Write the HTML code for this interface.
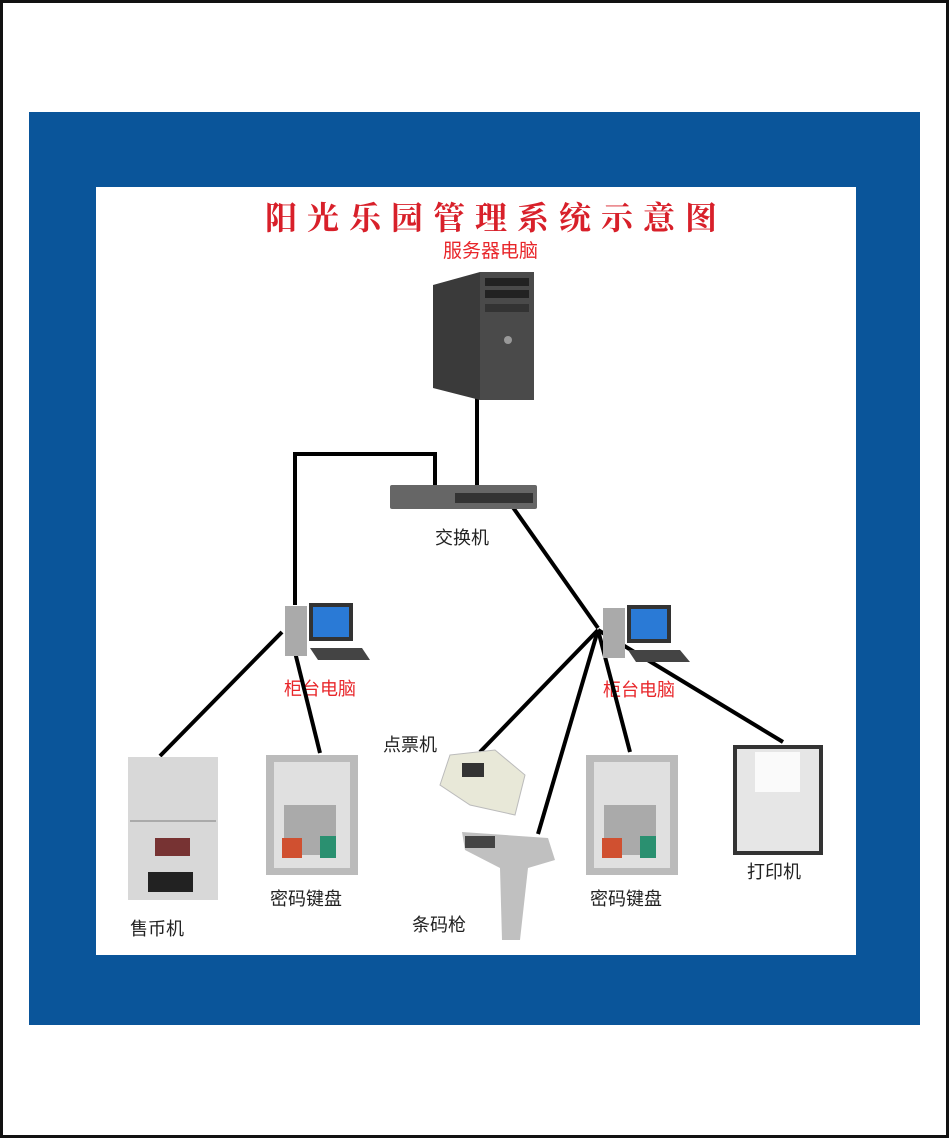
<!DOCTYPE html>
<html><head><meta charset="utf-8"><style>
html,body{margin:0;padding:0}
body{width:949px;height:1138px;position:relative;background:#fff;overflow:hidden;font-family:"Liberation Sans","Noto Sans CJK SC",sans-serif}
.frame{position:absolute;left:0;top:0;width:943px;height:1132px;border:3px solid #111}
.blue{position:absolute;left:29px;top:112px;width:891px;height:913px;background:#0a559a}
.inner{position:absolute;left:96px;top:187px;width:760px;height:768px;background:#fff}
.t{position:absolute;white-space:nowrap;line-height:1}
.red{color:#e8262a}
.blk{color:#222;font-size:18px}
</style></head><body>
<div class="frame"></div>
<div class="blue"></div>
<div class="inner"></div>
<div class="t red" style="left:265px;top:200px;font-size:32px;letter-spacing:10px;font-family:'Noto Serif CJK SC',serif;font-weight:bold;color:#d8202a">阳光乐园管理系统示意图</div>
<div class="t red" style="left:443px;top:242px;font-size:19px">服务器电脑</div>
<div class="t blk" style="left:435px;top:529px">交换机</div>
<div class="t red" style="left:284px;top:680px;font-size:18px">柜台电脑</div>
<div class="t red" style="left:603px;top:681px;font-size:18px">柜台电脑</div>
<div class="t blk" style="left:383px;top:736px">点票机</div>
<div class="t blk" style="left:130px;top:920px">售币机</div>
<div class="t blk" style="left:270px;top:890px">密码键盘</div>
<div class="t blk" style="left:412px;top:916px">条码枪</div>
<div class="t blk" style="left:590px;top:890px">密码键盘</div>
<div class="t blk" style="left:747px;top:863px">打印机</div>
<svg width="949" height="1138" style="position:absolute;left:0;top:0">
<g stroke="#000" stroke-width="4" fill="none">
<polyline points="435,485 435,454 295,454 295,605"/>
<line x1="477" y1="398" x2="477" y2="492"/>
<line x1="512" y1="506" x2="598" y2="628"/>
<line x1="282" y1="632" x2="160" y2="756"/>
<line x1="290" y1="632" x2="320" y2="753"/>
<line x1="598" y1="630" x2="480" y2="752"/>
<line x1="598" y1="630" x2="538" y2="834"/>
<line x1="598" y1="630" x2="630" y2="752"/>
<line x1="598" y1="630" x2="783" y2="742"/>
</g>
<polygon points="433,285 480,272 480,400 433,388" fill="#3a3a3a"/>
<rect x="480" y="272" width="54" height="128" fill="#4a4a4a"/>
<rect x="485" y="278" width="44" height="8" fill="#222"/><rect x="485" y="290" width="44" height="8" fill="#222"/><rect x="485" y="304" width="44" height="8" fill="#333"/>
<circle cx="508" cy="340" r="4" fill="#999"/>
<rect x="390" y="485" width="147" height="24" fill="#666" rx="2"/>
<rect x="455" y="493" width="78" height="10" fill="#333"/>
<g>
<rect x="285" y="606" width="22" height="50" fill="#aaa"/>
<rect x="309" y="603" width="44" height="38" fill="#333"/><rect x="313" y="607" width="36" height="30" fill="#2a7ad6"/>
<polygon points="310,648 362,648 370,660 318,660" fill="#444"/>
<rect x="603" y="608" width="22" height="50" fill="#aaa"/>
<rect x="627" y="605" width="44" height="38" fill="#333"/><rect x="631" y="609" width="36" height="30" fill="#2a7ad6"/>
<polygon points="628,650 680,650 690,662 636,662" fill="#444"/>
</g>
<rect x="128" y="757" width="90" height="143" fill="#d8d8d8"/>
<rect x="130" y="820" width="86" height="2" fill="#aaa"/>
<rect x="155" y="838" width="35" height="18" fill="#733"/>
<rect x="148" y="872" width="45" height="20" fill="#222"/>
<g>
<rect x="266" y="755" width="92" height="120" fill="#bbb"/><rect x="274" y="762" width="76" height="106" fill="#e0e0e0"/>
<rect x="284" y="805" width="52" height="50" fill="#aaa"/><rect x="282" y="838" width="20" height="20" fill="#d05030"/><rect x="320" y="836" width="16" height="22" fill="#2a9070"/>
<rect x="586" y="755" width="92" height="120" fill="#bbb"/><rect x="594" y="762" width="76" height="106" fill="#e0e0e0"/>
<rect x="604" y="805" width="52" height="50" fill="#aaa"/><rect x="602" y="838" width="20" height="20" fill="#d05030"/><rect x="640" y="836" width="16" height="22" fill="#2a9070"/>
</g>
<polygon points="450,755 495,750 525,775 515,815 470,805 440,785" fill="#e8e8d8" stroke="#bbb"/>
<rect x="462" y="763" width="22" height="14" fill="#333"/>
<path d="M462,832 L548,838 L555,860 L528,868 L520,940 L502,940 L500,868 L465,850 Z" fill="#c0c0c0"/>
<rect x="465" y="836" width="30" height="12" fill="#444"/>
<rect x="733" y="745" width="90" height="110" fill="#333"/><rect x="737" y="749" width="82" height="102" fill="#e6e6e6"/>
<rect x="755" y="752" width="45" height="40" fill="#fafafa"/>
</svg>
</body></html>
